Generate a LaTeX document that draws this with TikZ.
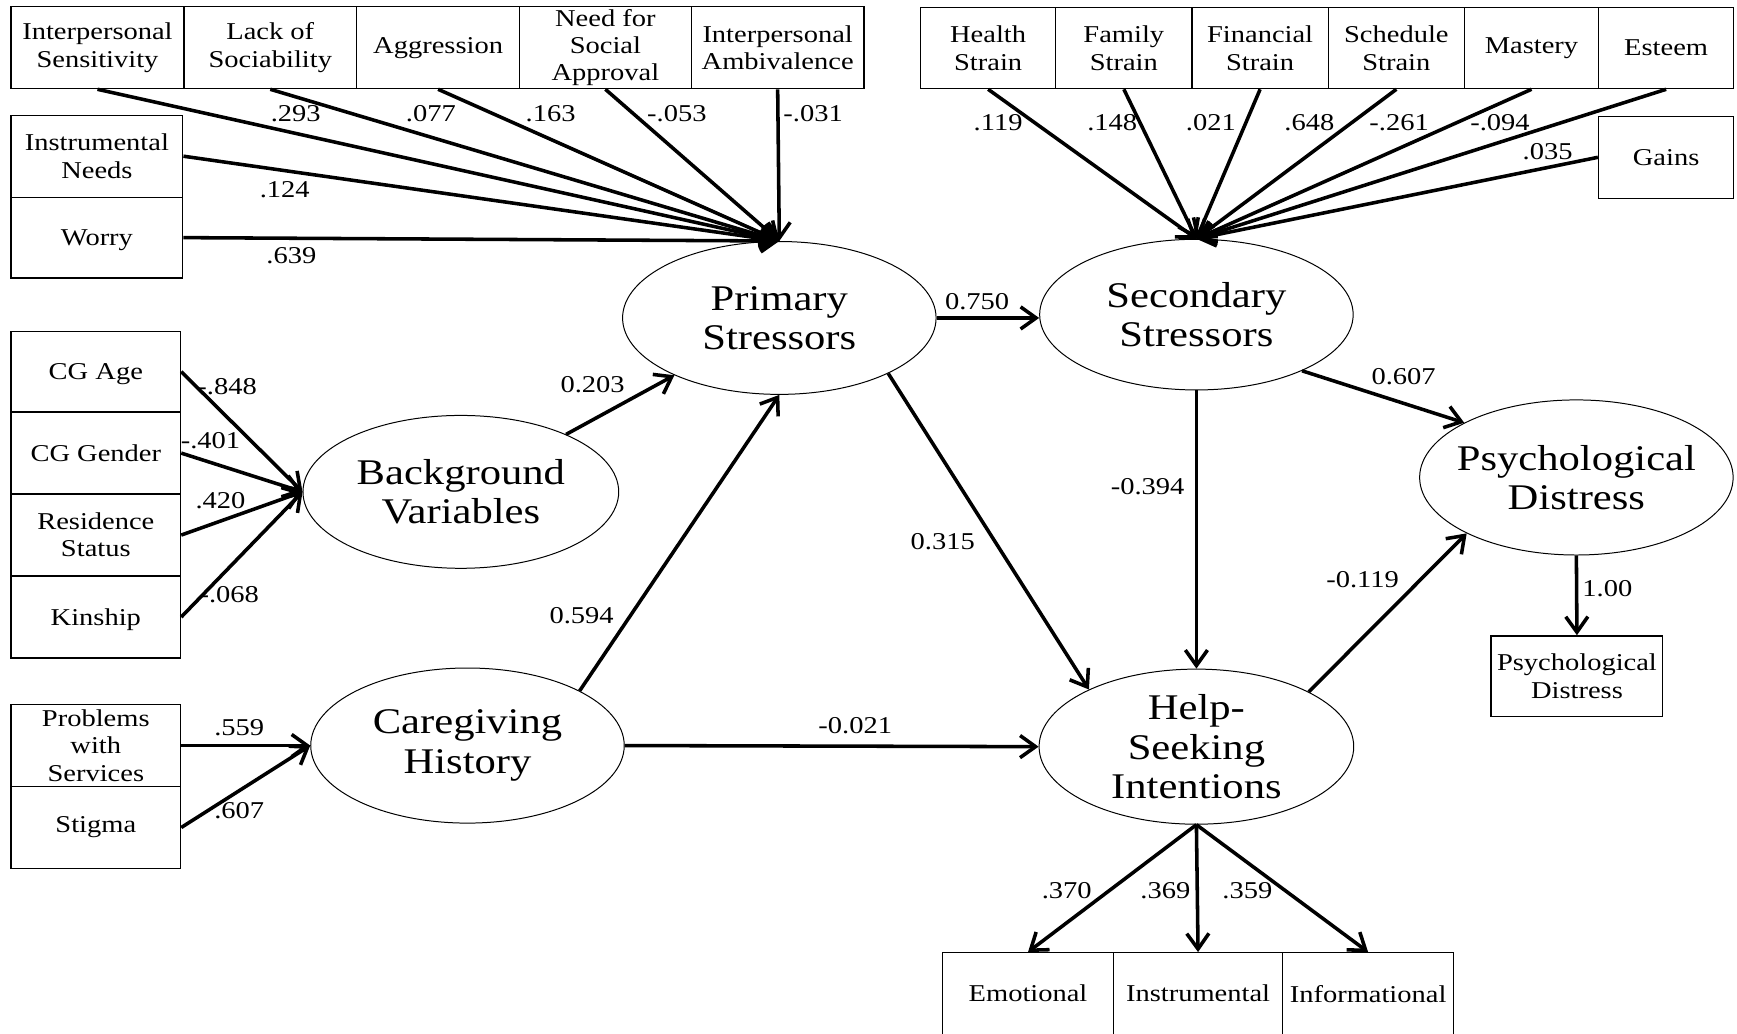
\documentclass[tikz,border=0pt]{standalone}
\usepackage{fontspec}
\setmainfont{Liberation Serif}[FakeStretch=1.18]
\usetikzlibrary{arrows.meta,shapes.geometric}

\tikzset{every picture/.style={line width=0.75pt}}
\tikzset{
  obs/.style={draw, rectangle, line width=0.6pt, inner sep=1pt, align=center,
    minimum width=77pt, minimum height=37pt, font=\fontsize{10.9}{12.3}\selectfont},
  latent/.style={draw, ellipse, line width=0.45pt, inner xsep=-5pt, inner ysep=0pt,
    align=center, minimum width=141.5pt, minimum height=69pt, font=\fontsize{16.3}{17.8}\selectfont},
  load/.style={line width=1.6pt, -{Straight Barb[length=7pt,width=10pt]}},
  coef/.style={inner sep=1pt, font=\fontsize{10.9}{12.3}\selectfont}
}

\begin{document}
\begin{tikzpicture}[x=0.5pt,y=0.5pt,yscale=-1,xscale=1]
\useasboundingbox (0,0) rectangle (1568,933);

%Shape: Ellipse
\node[latent] (ps) at (703.5,287) {Primary\\Stressors};
\node[latent, minimum height=68pt] (ss) at (1080,284) {Secondary\\Stressors};
\node[latent, minimum width=142.5pt] (bg) at (416,444) {Background\\Variables};
\node[latent, minimum height=70pt] (cg) at (422,673) {Caregiving\\History};
\node[latent, minimum width=142pt, minimum height=70pt] (hsi) at (1080,674) {Help-\\Seeking\\Intentions};
\node[latent, minimum height=70pt] (pd) at (1423,431) {Psychological\\Distress};

% Text Node
\node[obs, minimum width=78pt] (intsens) at (88,43) {Interpersonal\\Sensitivity};
\node[obs, minimum width=78pt] (lacksoc) at (244,43) {Lack of\\Sociability};
\node[obs, minimum width=73.5pt] (aggr) at (395.5,43) {Aggression};
\node[obs, minimum width=77.5pt] (socappr) at (546.5,43) {Need for\\Social\\Approval};
\node[obs, minimum width=78pt] (intamb) at (702,43) {Interpersonal\\Ambivalence};
\node[obs, minimum width=77.5pt] (instneeds) at (87.5,141) {Instrumental\\Needs};
\node[obs, minimum width=77.5pt, minimum height=36.5pt, text depth=0pt] (worry) at (87.5,214.5) {Worry};

% Text Node
\node[obs, minimum width=61pt, minimum height=36.5pt] (health) at (892,43.5) {Health\\Strain};
\node[obs, minimum width=61.5pt, minimum height=36.5pt] (family) at (1014.5,43.5) {Family\\Strain};
\node[obs, minimum width=61.5pt, minimum height=36.5pt] (financ) at (1137.5,43.5) {Financial\\Strain};
\node[obs, minimum width=61.5pt, minimum height=36.5pt] (sched) at (1260.5,43.5) {Schedule\\Strain};
\node[obs, minimum width=60.5pt, minimum height=36.5pt] (mastery) at (1382.5,43.5) {Mastery};
\node[obs, minimum width=61pt, minimum height=36.5pt] (esteem) at (1504,43.5) {Esteem};
\node[obs, minimum width=61pt] (gains) at (1504,142) {Gains};

% Text Node
\node[obs, minimum width=76.5pt, minimum height=36.5pt, text depth=0pt] (cgage) at (86.5,335.5) {CG Age};
\node[obs, minimum width=76.5pt, text depth=0pt] (cggender) at (86.5,409) {CG Gender};
\node[obs, minimum width=76.5pt] (resid) at (86.5,483) {Residence\\Status};
\node[obs, minimum width=76.5pt, text depth=0pt] (kinship) at (86.5,557) {Kinship};
\node[obs, minimum width=76.5pt] (problems) at (86.5,673) {Problems\\with\\Services};
\node[obs, minimum width=76.5pt] (stigma) at (86.5,747) {Stigma};

% Text Node
\node[obs, minimum width=77.5pt, minimum height=36.5pt] (pdscore) at (1423.5,610.5) {Psychological\\Distress};
\node[obs] (emotional) at (928,897) {Emotional};
\node[obs, minimum width=76.5pt] (instrum) at (1081.5,897) {Instrumental};
\node[obs] (inform) at (1235,897) {Informational};

%Straight Lines
\draw[load] (intsens.south) -- (ps.north);
\draw[load] (lacksoc.south) -- (ps.north);
\draw[load] (aggr.south) -- (ps.north);
\draw[load] (socappr.south) -- (ps.north);
\draw[load] (intamb.south) -- (ps.north);
\draw[load] (instneeds.east) -- (ps.north);
\draw[load] (worry.east) -- (ps.north);
%Straight Lines
\draw[load] (health.south) -- (ss.north);
\draw[load] (family.south) -- (ss.north);
\draw[load] (financ.south) -- (ss.north);
\draw[load] (sched.south) -- (ss.north);
\draw[load] (mastery.south) -- (ss.north);
\draw[load] (esteem.south) -- (ss.north);
\draw[load] (gains.west) -- (ss.north);
%Straight Lines
\draw[load] (cgage.east) -- (bg.west);
\draw[load] (cggender.east) -- (bg.west);
\draw[load] (resid.east) -- (bg.west);
\draw[load] (kinship.east) -- (bg.west);
\draw[load] (problems.east) -- (cg.west);
\draw[load] (stigma.east) -- (cg.west);
%Straight Lines
\draw[load] (bg) -- (ps);
\draw[load] (cg.26) -- (ps.south);
\draw[load] (ps.east) -- (ps.east -| ss.west);
\draw[load] (cg.east) -- (hsi.west);
\draw[load] (ps.333) -- (hsi.152);
\draw[load] (ss.south) -- (hsi.north);
\draw[load] (ss.332) -- (pd.154);
\draw[load] (hsi.26) -- (pd.207);
\draw[load] (pd.south) -- (pdscore.north);
\draw[load] (hsi.south) -- (emotional.north);
\draw[load] (hsi.south) -- (instrum.north);
\draw[load] (hsi.south) -- (inform.north);

% Text Node
\node[coef] (c293) at (267,103) {.293};
\node[coef] (c077) at (389,103) {.077};
\node[coef] (c163) at (497,103) {.163};
\node[coef] (c053) at (611,103) {-.053};
\node[coef] (c031) at (734,103) {-.031};
\node[coef] (c124) at (257,171) {.124};
\node[coef] (c639) at (263,231) {.639};
\node[coef] (c119) at (901,111) {.119};
\node[coef] (c148) at (1004,111) {.148};
\node[coef] (c021) at (1093,111) {.021};
\node[coef] (c648) at (1182,111) {.648};
\node[coef] (c261) at (1263,111) {-.261};
\node[coef] (c094) at (1354,111) {-.094};
\node[coef] (c035) at (1397,137) {.035};
\node[coef] (c848) at (205,349) {-.848};
\node[coef] (c401) at (190,398) {-.401};
\node[coef] (c420) at (199,452) {.420};
\node[coef] (c068) at (207,537) {-.068};
\node[coef] (c559) at (216,657) {.559};
\node[coef] (c607) at (216,732) {.607};
\node[coef] (b750) at (882,272) {0.750};
\node[coef] (b203) at (535,347) {0.203};
\node[coef] (b594) at (525,556) {0.594};
\node[coef] (b021) at (772,655) {-0.021};
\node[coef] (b315) at (851,489) {0.315};
\node[coef] (b394) at (1036,439) {-0.394};
\node[coef] (b607) at (1267,340) {0.607};
\node[coef] (b119) at (1230,523) {-0.119};
\node[coef] (b100) at (1451,531) {1.00};
\node[coef] (c370) at (963,804) {.370};
\node[coef] (c369) at (1052,804) {.369};
\node[coef] (c359) at (1126,804) {.359};

\end{tikzpicture}
\end{document}
